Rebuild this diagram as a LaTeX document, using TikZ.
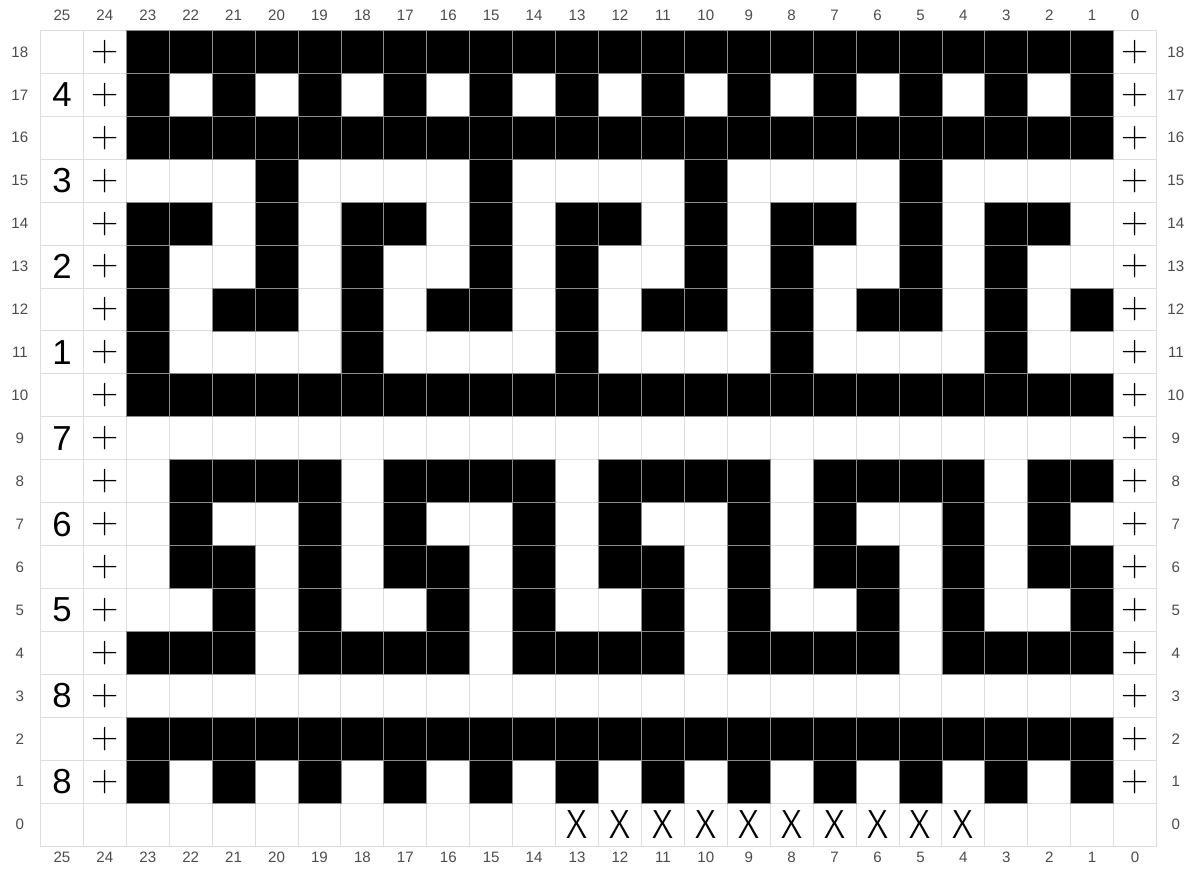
\documentclass[tikz,border=0pt]{standalone}
\usepackage{fontspec}
\setmainfont{Liberation Sans}
\newfontfamily\thinfont{Fira Sans Light}
\newfontfamily\plusfont{Latin Modern Roman}
\usetikzlibrary{positioning}

\begin{document}
\begin{tikzpicture}[
  x=1cm, y=1cm,
  gridline/.style={draw=black!13, line width=0.6pt},
  stitch/.style={fill=black, draw=black!45, line width=0.5pt},
  axislabel/.style={font=\fontsize{10}{12}\selectfont, text=black!70, inner sep=0pt},
  rowcount/.style={font=\fontsize{23}{26}\selectfont, inner sep=0pt},
  plussign/.style={font=\plusfont\fontsize{25}{28}\selectfont, inner sep=0pt},
  cross/.style={font=\thinfont\fontsize{27}{30}\selectfont, inner sep=0pt}
]
\useasboundingbox (-0.942,-0.593) rectangle (26.919,19.709);

\draw[gridline] (0,0) grid (26,19);

\foreach \r/\cols in {
  18/{23,...,1}, 17/{23,21,...,1}, 16/{23,...,1},
  15/{20,15,10,5},
  14/{23,22,20,18,17,15,13,12,10,8,7,5,3,2},
  13/{23,20,18,15,13,10,8,5,3},
  12/{23,21,20,18,16,15,13,11,10,8,6,5,3,1},
  11/{23,18,13,8,3},
  10/{23,...,1},
  8/{22,21,20,19,17,16,15,14,12,11,10,9,7,6,5,4,2,1},
  7/{22,19,17,14,12,9,7,4,2},
  6/{22,21,19,17,16,14,12,11,9,7,6,4,2,1},
  5/{21,19,16,14,11,9,6,4,1},
  4/{23,22,21,19,18,17,16,14,13,12,11,9,8,7,6,4,3,2,1},
  2/{23,...,1}, 1/{23,21,...,1}}
  \foreach \c in \cols
    \draw[stitch] ({25-\c},\r) rectangle ++(1,1);

\foreach \c in {0,...,25} {
  \node[axislabel] (top-\c) at ({25.5-\c},19.36) {\c};
  \node[axislabel] (bot-\c) at ({25.5-\c},-0.27) {\c};
}
\foreach \r in {0,...,18} {
  \node[axislabel] (lft-\r) at (-0.48,\r+0.5) {\r};
  \node[axislabel] (rgt-\r) at (26.45,\r+0.5) {\r};
}
\foreach \r in {1,...,18} {
  \node[plussign] (pl-\r) at (1.5,\r+0.5) {+};
  \node[plussign] (pr-\r) at (25.5,\r+0.5) {+};
}
\foreach \r/\n in {17/4, 15/3, 13/2, 11/1, 9/7, 7/6, 5/5, 3/8, 1/8}
  \node[rowcount] (n-\r) at (0.5,\r+0.5) {\n};
\foreach \c in {13,...,4}
  \node[cross] (x-\c) at ({25.5-\c},0.5) {X};
\end{tikzpicture}
\end{document}
